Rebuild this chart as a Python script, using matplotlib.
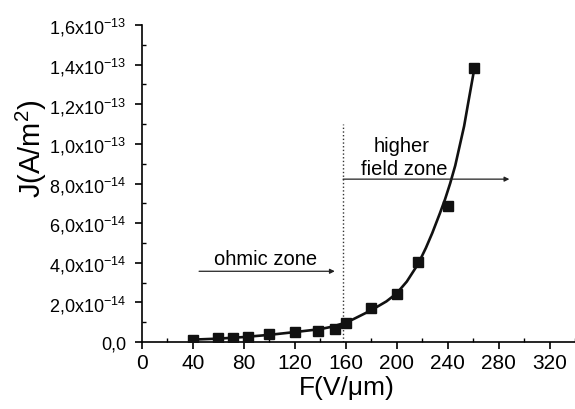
import numpy as np
import matplotlib
matplotlib.use("Agg")
import matplotlib.pyplot as plt
from matplotlib.ticker import MultipleLocator, FuncFormatter

plt.rcParams['font.family'] = ['Liberation Sans', 'DejaVu Sans']
plt.rcParams['mathtext.fontset'] = 'custom'
plt.rcParams['mathtext.rm'] = 'Liberation Sans'
plt.rcParams['mathtext.it'] = 'Liberation Sans:italic'

# measured points
F = [40, 60, 72, 83, 100, 120, 138, 152, 160, 180, 200, 217, 240, 261]
J = [0.11e-14, 0.18e-14, 0.21e-14, 0.26e-14, 0.41e-14, 0.51e-14, 0.56e-14,
     0.68e-14, 0.98e-14, 1.70e-14, 2.40e-14, 4.04e-14, 6.85e-14, 13.85e-14]

# fitted curve
fit_F = [40, 60, 80, 100, 120, 140, 150, 160, 166, 180, 192, 200, 208, 217,
         223, 228, 234, 238, 242, 246, 249.5, 253, 256, 261]
fit_J = [0.12e-14, 0.17e-14, 0.25e-14, 0.36e-14, 0.50e-14, 0.65e-14, 0.78e-14,
         0.98e-14, 1.15e-14, 1.6e-14, 2.05e-14, 2.45e-14, 3.05e-14, 3.95e-14,
         4.75e-14, 5.5e-14, 6.5e-14, 7.2e-14, 8.0e-14, 8.9e-14, 9.9e-14,
         10.9e-14, 12.0e-14, 13.8e-14]

boundary = 158

fig = plt.figure(figsize=(5.75, 4.1), dpi=100)
ax = fig.add_axes([0.2465, 0.1634, 0.7535, 0.7732])

ax.plot(fit_F, fit_J, '-', color='#111111', lw=1.9, zorder=2)
ax.plot(F, J, 's', color='#111111', ms=7, zorder=3)

ax.plot([boundary, boundary], [0, 1.1e-13], ':', color='#333333', lw=1.0)

arrow = dict(arrowstyle='-|>', color='#222222', lw=0.9, mutation_scale=7,
             shrinkA=0, shrinkB=0)
ax.annotate('', xy=(151.5, 3.57e-14), xytext=(45, 3.57e-14), arrowprops=arrow)
ax.annotate('', xy=(288.5, 8.22e-14), xytext=(boundary, 8.22e-14), arrowprops=arrow)

ax.text(97, 3.96e-14, 'ohmic zone', ha='center', va='baseline', fontsize=14.5)
ax.text(204, 9.66e-14, 'higher', ha='center', va='baseline', fontsize=14.5)
ax.text(206, 8.5e-14, 'field zone', ha='center', va='baseline', fontsize=14.5)

ax.set_xlim(0, 340)
ax.set_ylim(0, 1.6e-13)
ax.xaxis.set_major_locator(MultipleLocator(40))
ax.xaxis.set_minor_locator(MultipleLocator(20))
ax.yaxis.set_major_locator(MultipleLocator(2e-14))
ax.yaxis.set_minor_locator(MultipleLocator(1e-14))


def sci(v, pos):
    if abs(v) < 1e-20:
        return '0,0'
    e = int(np.floor(np.log10(abs(v)) + 1e-9))
    m = v / 10 ** e
    return ('%.1f' % m).replace('.', ',') + 'x10$^{%d}$' % e


ax.yaxis.set_major_formatter(FuncFormatter(sci))

for s in ['top', 'right']:
    ax.spines[s].set_visible(False)
for s in ['left', 'bottom']:
    ax.spines[s].set_linewidth(1.2)

ax.tick_params(which='major', direction='out', length=5, width=1.2)
ax.tick_params(which='minor', direction='in', length=3, width=1.0)
ax.tick_params(axis='x', labelsize=15, pad=3)
ax.tick_params(axis='y', labelsize=13, pad=6)

ax.set_xlabel('F(V/\u03bcm)', fontsize=19)
ax.set_ylabel('J(A/m$^2$)', fontsize=21)
ax.xaxis.set_label_coords(0.474, -0.105)
ax.yaxis.set_label_coords(-0.213, 0.614)

fig.savefig('out.png', dpi=100)
